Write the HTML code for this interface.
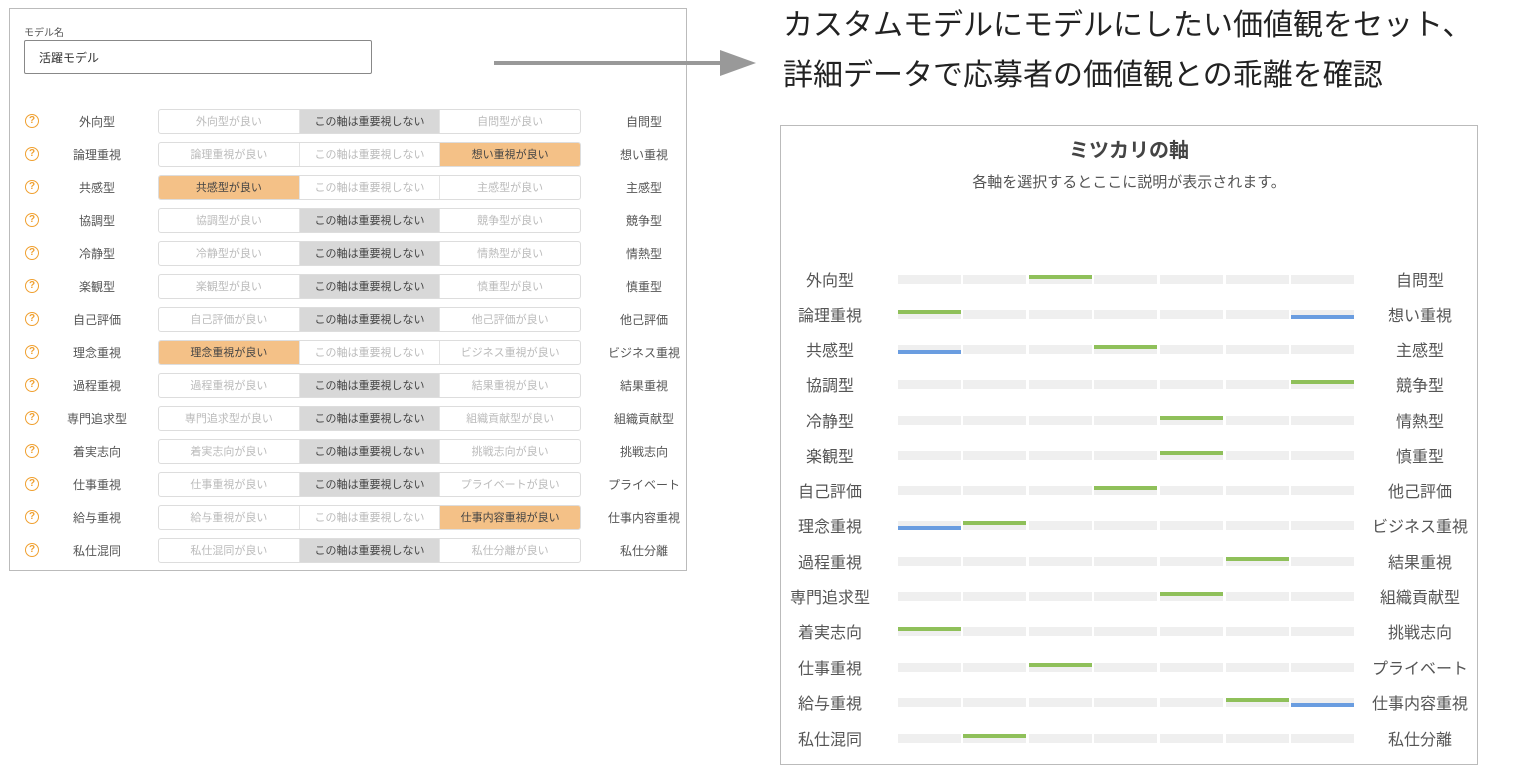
<!DOCTYPE html>
<html><head><meta charset="utf-8"><style>
body{margin:0;width:1530px;height:778px;background:#fff;position:relative;overflow:hidden;font-family:"Liberation Sans","Noto Sans CJK JP",sans-serif;}
.a{position:absolute}
#lp{left:9px;top:8px;width:676px;height:561px;border:1px solid #bbb;}
.r{position:absolute;left:0;width:676px;height:26px}
.q{position:absolute;left:15px;top:5px;width:12px;height:12px;border:1.5px solid #f0a030;border-radius:50%;color:#f0a030;font-size:10px;line-height:12px;text-align:center;font-weight:bold}
.ll{position:absolute;left:47px;width:80px;text-align:center;top:4px;font-size:12px;color:#555}
.rl{position:absolute;left:584px;width:100px;text-align:center;top:4px;font-size:12px;color:#555}
.bg{position:absolute;left:148px;top:0;width:421px;height:23px;border:1px solid #ddd;border-radius:3px;display:flex;overflow:hidden}
.bg span{flex:1;text-align:center;font-size:11px;line-height:25px;color:#bbb;border-left:1px solid #e4e4e4}
.bg span:first-child{border-left:none}
.bg .g{background:#d8d8d8;color:#444}
.bg .o{background:#f4c187;color:#444}
#rp{left:780px;top:125px;width:696px;height:638px;border:1px solid #bbb;}
.t{position:absolute;left:0;width:100%;text-align:center}
.rr{position:absolute;left:0;width:696px;height:20px}
.l2{position:absolute;left:0;width:100px;text-align:center;font-size:16px;color:#555;top:2px;line-height:20px}
.r2{position:absolute;left:590px;width:100px;text-align:center;font-size:16px;color:#555;top:2px;line-height:20px}
.s{position:absolute;top:5px;height:9px;width:63px;background:#efefef}
.gr{position:absolute;top:5px;height:4px;width:63px;background:#8fc05a}
.bl{position:absolute;top:10px;height:4px;width:63px;background:#6a9de0}
</style></head><body>
<div class="a" id="lp">
<div class="a" style="left:14px;top:15px;font-size:10px;color:#555">モデル名</div>
<div class="a" style="left:14px;top:31px;width:348px;height:34px;border:1px solid #888;border-radius:2px;font-size:12px;line-height:34px;color:#333;padding-left:14px;box-sizing:border-box">活躍モデル</div>
<div class="r" style="top:100px"><div class="q">?</div><div class="ll">外向型</div><div class="bg"><span>外向型が良い</span><span class="g">この軸は重要視しない</span><span>自問型が良い</span></div><div class="rl">自問型</div></div>
<div class="r" style="top:133px"><div class="q">?</div><div class="ll">論理重視</div><div class="bg"><span>論理重視が良い</span><span>この軸は重要視しない</span><span class="o">想い重視が良い</span></div><div class="rl">想い重視</div></div>
<div class="r" style="top:166px"><div class="q">?</div><div class="ll">共感型</div><div class="bg"><span class="o">共感型が良い</span><span>この軸は重要視しない</span><span>主感型が良い</span></div><div class="rl">主感型</div></div>
<div class="r" style="top:199px"><div class="q">?</div><div class="ll">協調型</div><div class="bg"><span>協調型が良い</span><span class="g">この軸は重要視しない</span><span>競争型が良い</span></div><div class="rl">競争型</div></div>
<div class="r" style="top:232px"><div class="q">?</div><div class="ll">冷静型</div><div class="bg"><span>冷静型が良い</span><span class="g">この軸は重要視しない</span><span>情熱型が良い</span></div><div class="rl">情熱型</div></div>
<div class="r" style="top:265px"><div class="q">?</div><div class="ll">楽観型</div><div class="bg"><span>楽観型が良い</span><span class="g">この軸は重要視しない</span><span>慎重型が良い</span></div><div class="rl">慎重型</div></div>
<div class="r" style="top:298px"><div class="q">?</div><div class="ll">自己評価</div><div class="bg"><span>自己評価が良い</span><span class="g">この軸は重要視しない</span><span>他己評価が良い</span></div><div class="rl">他己評価</div></div>
<div class="r" style="top:331px"><div class="q">?</div><div class="ll">理念重視</div><div class="bg"><span class="o">理念重視が良い</span><span>この軸は重要視しない</span><span>ビジネス重視が良い</span></div><div class="rl">ビジネス重視</div></div>
<div class="r" style="top:364px"><div class="q">?</div><div class="ll">過程重視</div><div class="bg"><span>過程重視が良い</span><span class="g">この軸は重要視しない</span><span>結果重視が良い</span></div><div class="rl">結果重視</div></div>
<div class="r" style="top:397px"><div class="q">?</div><div class="ll">専門追求型</div><div class="bg"><span>専門追求型が良い</span><span class="g">この軸は重要視しない</span><span>組織貢献型が良い</span></div><div class="rl">組織貢献型</div></div>
<div class="r" style="top:430px"><div class="q">?</div><div class="ll">着実志向</div><div class="bg"><span>着実志向が良い</span><span class="g">この軸は重要視しない</span><span>挑戦志向が良い</span></div><div class="rl">挑戦志向</div></div>
<div class="r" style="top:463px"><div class="q">?</div><div class="ll">仕事重視</div><div class="bg"><span>仕事重視が良い</span><span class="g">この軸は重要視しない</span><span>プライベートが良い</span></div><div class="rl">プライベート</div></div>
<div class="r" style="top:496px"><div class="q">?</div><div class="ll">給与重視</div><div class="bg"><span>給与重視が良い</span><span>この軸は重要視しない</span><span class="o">仕事内容重視が良い</span></div><div class="rl">仕事内容重視</div></div>
<div class="r" style="top:529px"><div class="q">?</div><div class="ll">私仕混同</div><div class="bg"><span>私仕混同が良い</span><span class="g">この軸は重要視しない</span><span>私仕分離が良い</span></div><div class="rl">私仕分離</div></div>
</div>
<div class="a" style="left:494px;top:61px;width:232px;height:4px;background:#999"></div>
<svg class="a" style="left:720px;top:50px" width="40" height="28"><polygon points="0,0 36,13 0,26" fill="#999"/></svg>
<div class="a" style="left:783px;top:1px;font-size:30px;line-height:50px;color:#222;white-space:nowrap">カスタムモデルにモデルにしたい価値観をセット、<br>詳細データで応募者の価値観との乖離を確認</div>
<div class="a" id="rp">
<div class="t" style="top:8px;font-size:20px;font-weight:bold;color:#444">ミツカリの軸</div>
<div class="t" style="top:45px;font-size:15px;color:#555">各軸を選択するとここに説明が表示されます。</div>
</div>
<div class="a" style="left:780px;top:125px">
<div class="rr" style="top:145px"><div class="l2">外向型</div><div class="r2">自問型</div><div class="s" style="left:118px"></div><div class="s" style="left:183px"></div><div class="s" style="left:249px"></div><div class="s" style="left:314px"></div><div class="s" style="left:380px"></div><div class="s" style="left:446px"></div><div class="s" style="left:511px"></div><div class="gr" style="left:249px"></div></div>
<div class="rr" style="top:180px"><div class="l2">論理重視</div><div class="r2">想い重視</div><div class="s" style="left:118px"></div><div class="s" style="left:183px"></div><div class="s" style="left:249px"></div><div class="s" style="left:314px"></div><div class="s" style="left:380px"></div><div class="s" style="left:446px"></div><div class="s" style="left:511px"></div><div class="gr" style="left:118px"></div><div class="bl" style="left:511px"></div></div>
<div class="rr" style="top:215px"><div class="l2">共感型</div><div class="r2">主感型</div><div class="s" style="left:118px"></div><div class="s" style="left:183px"></div><div class="s" style="left:249px"></div><div class="s" style="left:314px"></div><div class="s" style="left:380px"></div><div class="s" style="left:446px"></div><div class="s" style="left:511px"></div><div class="bl" style="left:118px"></div><div class="gr" style="left:314px"></div></div>
<div class="rr" style="top:250px"><div class="l2">協調型</div><div class="r2">競争型</div><div class="s" style="left:118px"></div><div class="s" style="left:183px"></div><div class="s" style="left:249px"></div><div class="s" style="left:314px"></div><div class="s" style="left:380px"></div><div class="s" style="left:446px"></div><div class="s" style="left:511px"></div><div class="gr" style="left:511px"></div></div>
<div class="rr" style="top:286px"><div class="l2">冷静型</div><div class="r2">情熱型</div><div class="s" style="left:118px"></div><div class="s" style="left:183px"></div><div class="s" style="left:249px"></div><div class="s" style="left:314px"></div><div class="s" style="left:380px"></div><div class="s" style="left:446px"></div><div class="s" style="left:511px"></div><div class="gr" style="left:380px"></div></div>
<div class="rr" style="top:321px"><div class="l2">楽観型</div><div class="r2">慎重型</div><div class="s" style="left:118px"></div><div class="s" style="left:183px"></div><div class="s" style="left:249px"></div><div class="s" style="left:314px"></div><div class="s" style="left:380px"></div><div class="s" style="left:446px"></div><div class="s" style="left:511px"></div><div class="gr" style="left:380px"></div></div>
<div class="rr" style="top:356px"><div class="l2">自己評価</div><div class="r2">他己評価</div><div class="s" style="left:118px"></div><div class="s" style="left:183px"></div><div class="s" style="left:249px"></div><div class="s" style="left:314px"></div><div class="s" style="left:380px"></div><div class="s" style="left:446px"></div><div class="s" style="left:511px"></div><div class="gr" style="left:314px"></div></div>
<div class="rr" style="top:391px"><div class="l2">理念重視</div><div class="r2">ビジネス重視</div><div class="s" style="left:118px"></div><div class="s" style="left:183px"></div><div class="s" style="left:249px"></div><div class="s" style="left:314px"></div><div class="s" style="left:380px"></div><div class="s" style="left:446px"></div><div class="s" style="left:511px"></div><div class="bl" style="left:118px"></div><div class="gr" style="left:183px"></div></div>
<div class="rr" style="top:427px"><div class="l2">過程重視</div><div class="r2">結果重視</div><div class="s" style="left:118px"></div><div class="s" style="left:183px"></div><div class="s" style="left:249px"></div><div class="s" style="left:314px"></div><div class="s" style="left:380px"></div><div class="s" style="left:446px"></div><div class="s" style="left:511px"></div><div class="gr" style="left:446px"></div></div>
<div class="rr" style="top:462px"><div class="l2">専門追求型</div><div class="r2">組織貢献型</div><div class="s" style="left:118px"></div><div class="s" style="left:183px"></div><div class="s" style="left:249px"></div><div class="s" style="left:314px"></div><div class="s" style="left:380px"></div><div class="s" style="left:446px"></div><div class="s" style="left:511px"></div><div class="gr" style="left:380px"></div></div>
<div class="rr" style="top:497px"><div class="l2">着実志向</div><div class="r2">挑戦志向</div><div class="s" style="left:118px"></div><div class="s" style="left:183px"></div><div class="s" style="left:249px"></div><div class="s" style="left:314px"></div><div class="s" style="left:380px"></div><div class="s" style="left:446px"></div><div class="s" style="left:511px"></div><div class="gr" style="left:118px"></div></div>
<div class="rr" style="top:533px"><div class="l2">仕事重視</div><div class="r2">プライベート</div><div class="s" style="left:118px"></div><div class="s" style="left:183px"></div><div class="s" style="left:249px"></div><div class="s" style="left:314px"></div><div class="s" style="left:380px"></div><div class="s" style="left:446px"></div><div class="s" style="left:511px"></div><div class="gr" style="left:249px"></div></div>
<div class="rr" style="top:568px"><div class="l2">給与重視</div><div class="r2">仕事内容重視</div><div class="s" style="left:118px"></div><div class="s" style="left:183px"></div><div class="s" style="left:249px"></div><div class="s" style="left:314px"></div><div class="s" style="left:380px"></div><div class="s" style="left:446px"></div><div class="s" style="left:511px"></div><div class="gr" style="left:446px"></div><div class="bl" style="left:511px"></div></div>
<div class="rr" style="top:604px"><div class="l2">私仕混同</div><div class="r2">私仕分離</div><div class="s" style="left:118px"></div><div class="s" style="left:183px"></div><div class="s" style="left:249px"></div><div class="s" style="left:314px"></div><div class="s" style="left:380px"></div><div class="s" style="left:446px"></div><div class="s" style="left:511px"></div><div class="gr" style="left:183px"></div></div>
</div>
</body></html>
